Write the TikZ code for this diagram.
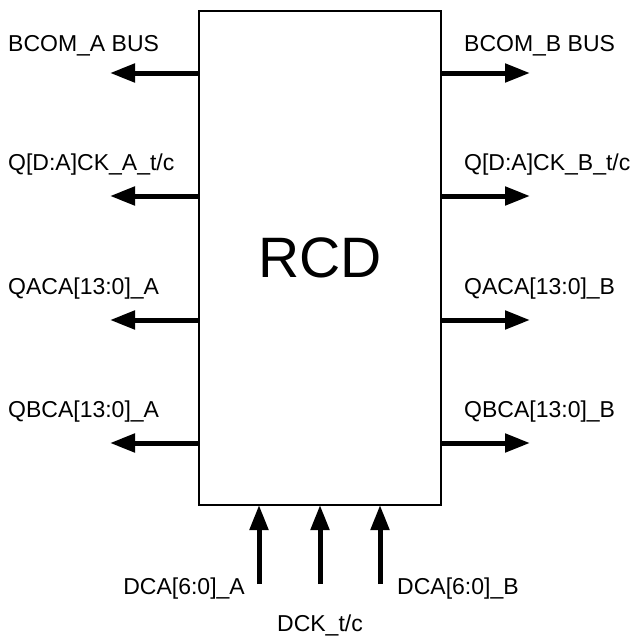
\documentclass[tikz,border=0pt]{standalone}
\usepackage{fontspec}
\setmainfont{Liberation Sans}
\usetikzlibrary{arrows.meta}

\tikzset{
    sig/.style={line width=5pt, -{Triangle[length=25pt,width=18pt]}},
    siglabel/.style={font=\fontsize{23}{27}\selectfont, inner sep=0pt}
}

\begin{document}
\begin{tikzpicture}[x=1pt, y=-1pt]
        \useasboundingbox (0,0) rectangle (635,637);

        \node[draw, line width=2pt, minimum width=242pt, minimum height=494pt, inner sep=0pt, outer sep=0pt,
              font=\fontsize{57}{60}\selectfont] (rcd) at (320,258) {RCD};

        % outputs, side A
        \coordinate (oa1) at (110,73);
        \coordinate (oa2) at (110,196);
        \coordinate (oa3) at (110,320);
        \coordinate (oa4) at (110,443);
        % outputs, side B
        \coordinate (ob1) at (530,73);
        \coordinate (ob2) at (530,196);
        \coordinate (ob3) at (530,320);
        \coordinate (ob4) at (530,443);
        % inputs
        \coordinate (in1) at (259,584);
        \coordinate (in2) at (320,584);
        \coordinate (in3) at (380,584);

        \draw[sig] (rcd.west |- oa1) -- (oa1);
        \draw[sig] (rcd.west |- oa2) -- (oa2);
        \draw[sig] (rcd.west |- oa3) -- (oa3);
        \draw[sig] (rcd.west |- oa4) -- (oa4);
        \draw[sig] (rcd.east |- ob1) -- (ob1);
        \draw[sig] (rcd.east |- ob2) -- (ob2);
        \draw[sig] (rcd.east |- ob3) -- (ob3);
        \draw[sig] (rcd.east |- ob4) -- (ob4);
        \draw[sig] (in1) -- (in1 |- rcd.south);
        \draw[sig] (in2) -- (in2 |- rcd.south);
        \draw[sig] (in3) -- (in3 |- rcd.south);

        \node[siglabel, anchor=base west] (la1) at (8,51) {BCOM\_A BUS};
        \node[siglabel, anchor=base west] (la2) at (8,170) {Q[D:A]CK\_A\_t/c};
        \node[siglabel, anchor=base west] (la3) at (8,294) {QACA[13:0]\_A};
        \node[siglabel, anchor=base west] (la4) at (8,417) {QBCA[13:0]\_A};
        \node[siglabel, anchor=base west] (lb1) at (464,51) {BCOM\_B BUS};
        \node[siglabel, anchor=base west] (lb2) at (464,170) {Q[D:A]CK\_B\_t/c};
        \node[siglabel, anchor=base west] (lb3) at (464,294) {QACA[13:0]\_B};
        \node[siglabel, anchor=base west] (lb4) at (464,417) {QBCA[13:0]\_B};
        \node[siglabel, anchor=base east] (lin1) at (245,594) {DCA[6:0]\_A};
        \node[siglabel, anchor=base] (lin2) at (320,631) {DCK\_t/c};
        \node[siglabel, anchor=base west] (lin3) at (397,594) {DCA[6:0]\_B};
    \end{tikzpicture}
\end{document}
